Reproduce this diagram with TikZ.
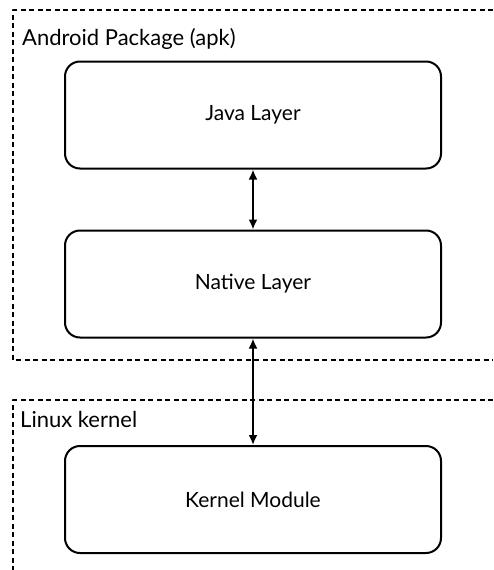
\documentclass[tikz,border=0pt]{standalone}
\usepackage{fontspec}
\setmainfont{Lato}
\usetikzlibrary{arrows.meta}
\tikzset{
  layer/.style={draw,line width=2pt,rounded corners=15pt,minimum width=376pt,minimum height=107pt,font=\fontsize{21}{24}\selectfont},
  region/.style={line width=2pt,dash pattern=on 5pt off 3.5pt},
  caption/.style={anchor=base west,inner sep=0pt,font=\fontsize{22}{26}\selectfont},
  link/.style={{Latex[length=10pt,width=9pt]}-{Latex[length=10pt,width=9pt]},line width=2pt},
}
\begin{document}
\begin{tikzpicture}[line join=round,x=1pt,y=-1pt]
	\useasboundingbox (0,0) rectangle (493,570);
	\draw[region] (493,10) -- (13,10) -- (13,360) -- (493,360);
	\draw[region] (493,400) -- (13,400) -- (13,570);
	\node[caption] (apk) at (22,45) {Android Package (apk)};
	\node[caption] (linux) at (20,427) {Linux kernel};
	\node[layer] (java) at (253,115) {Java Layer};
	\node[layer] (native) at (253,284) {Native Layer};
	\node[layer] (kernel) at (253,499.5) {Kernel Module};
	\draw[link] (java) -- (native);
	\draw[link] (native) -- (kernel);
\end{tikzpicture}
\end{document}
